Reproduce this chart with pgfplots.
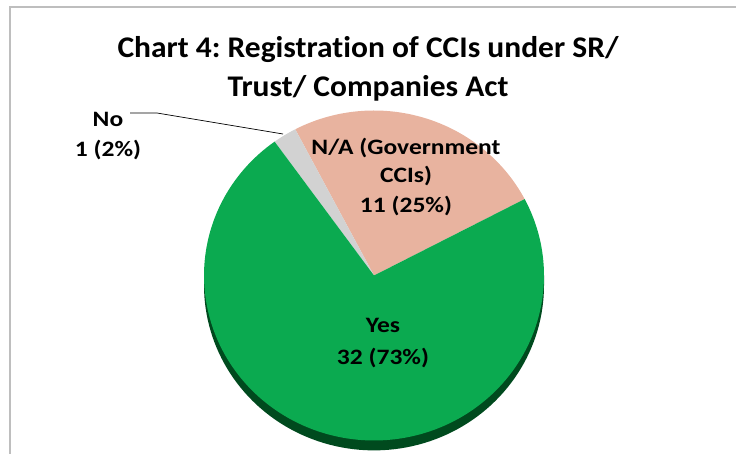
\documentclass[border=0pt]{standalone}
\usepackage{fontspec}
\setmainfont[Ligatures=CommonOff]{Carlito}
\newfontfamily\titlefont[FakeStretch=1.05,Ligatures=CommonOff]{Carlito Bold}
\newfontfamily\labfont[FakeStretch=1.16,Ligatures=CommonOff]{Carlito Bold}
\usepackage{pgfplots}
\pgfplotsset{compat=1.18}
\frenchspacing

\definecolor{yesgreen}{RGB}{11,170,80}
\definecolor{sidegreen}{RGB}{0,74,30}
\definecolor{nasalmon}{RGB}{232,179,159}
\definecolor{nogray}{RGB}{210,210,210}
\definecolor{framegray}{RGB}{190,190,190}

% counts per category
\def\vNA{11}
\def\vNo{1}
\def\vYes{32}
\pgfmathsetmacro{\vTot}{\vNA+\vNo+\vYes}
\pgfmathsetmacro{\aA}{27.6}
\pgfmathsetmacro{\aB}{\aA+360*\vNA/\vTot}
\pgfmathsetmacro{\aC}{\aB+360*\vNo/\vTot}
\pgfmathsetmacro{\aD}{\aA+360}

\begin{document}
\begin{tikzpicture}[x=1pt,y=1pt]
\useasboundingbox (0,0) rectangle (736,454);
\draw[framegray,line width=1.2pt] (10,0) -- (10,447) -- (736,447);

\begin{axis}[
  at={(374pt,178.5pt)}, anchor=origin,
  scale only axis, width=340pt, height=330pt,
  xmin=-1,xmax=1,ymin=-1,ymax=1,
  hide axis, clip=false
]
% visible side of the tilted pie
\addplot[fill=sidegreen,draw=none,domain=180:360,samples=90]
  ({cos(x)},{sin(x)-0.06}) -- (1,0) -- (-1,0) -- cycle;
\addplot[fill=nasalmon,draw=none,domain=\aA:\aB,samples=60]
  ({cos(x)},{sin(x)}) -- (0,0) -- cycle;
\addplot[fill=nogray,draw=none,domain=\aB:\aC,samples=10]
  ({cos(x)},{sin(x)}) -- (0,0) -- cycle;
\addplot[fill=yesgreen,draw=none,domain=\aC:\aD,samples=150]
  ({cos(x)},{sin(x)}) -- (0,0) -- cycle;
\end{axis}

\begin{scope}[font=\titlefont\fontsize{30}{36}\selectfont]
\node[anchor=base] at (368,396) {Chart 4: Registration of CCIs under SR/};
\node[anchor=base] at (368,357) {Trust/ Companies Act};
\end{scope}

\begin{scope}[font=\labfont\fontsize{22}{30}\selectfont]
\node[anchor=base] at (108,327) {No};
\node[anchor=base] at (108,297) {1 (2\%)};
\node[anchor=base] at (406,299) {N/A (Government};
\node[anchor=base] at (406,271) {CCIs)};
\node[anchor=base] at (406,241) {11 (25\%)};
\node[anchor=base] at (383,121) {Yes};
\node[anchor=base] at (383,89) {32 (73\%)};
\end{scope}
\draw[black,line width=0.7pt] (130,341) -- (157,341) -- (283,320);
\end{tikzpicture}
\end{document}
